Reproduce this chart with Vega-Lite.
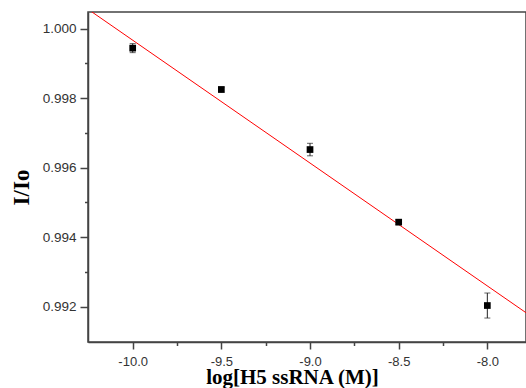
{
  "$schema": "https://vega.github.io/schema/vega-lite/v6.json",
  "autosize": {"type": "none"},
  "padding": {"left": 88, "top": 12, "right": 0, "bottom": 46},
  "width": 438,
  "height": 330,
  "background": "white",
  "config": {
    "view": {"stroke": "#444", "strokeWidth": 1.5},
    "axis": {"grid": false}
  },
  "datasets": {
    "pts": [
      {"x": -10.0, "y": 0.99944, "lo": 0.99931, "hi": 0.99957},
      {"x": -9.5, "y": 0.99825, "lo": 0.99817, "hi": 0.99831},
      {"x": -9.0, "y": 0.99652, "lo": 0.99634, "hi": 0.99670},
      {"x": -8.5, "y": 0.99443, "lo": 0.99436, "hi": 0.99450},
      {"x": -8.0, "y": 0.99203, "lo": 0.99167, "hi": 0.99239}
    ],
    "fit": [
      {"x": -10.3, "y": 1.00073},
      {"x": -7.75, "y": 0.99171}
    ],
    "minor": [
      {"x": -9.75, "y": 0.999},
      {"x": -9.25, "y": 0.997},
      {"x": -8.75, "y": 0.995},
      {"x": -8.25, "y": 0.993},
      {"x": -10.25, "y": 0.991},
      {"x": -7.75, "y": 0.991}
    ]
  },
  "resolve": {"axis": {"x": "independent", "y": "independent"}},
  "layer": [
    {
      "layer": [
        {
          "data": {"name": "fit"},
          "mark": {"type": "line", "color": "#ff0000", "strokeWidth": 1, "clip": true},
          "encoding": {
            "x": {"field": "x", "type": "quantitative"},
            "y": {"field": "y", "type": "quantitative"}
          }
        },
        {
          "data": {"name": "pts"},
          "mark": {"type": "rule", "color": "#222", "strokeWidth": 1},
          "encoding": {
            "x": {"field": "x", "type": "quantitative"},
            "y": {"field": "lo", "type": "quantitative"},
            "y2": {"field": "hi"}
          }
        },
        {
          "data": {"name": "pts"},
          "mark": {"type": "tick", "color": "#222", "orient": "horizontal", "size": 6, "thickness": 1},
          "encoding": {
            "x": {"field": "x", "type": "quantitative"},
            "y": {"field": "lo", "type": "quantitative"}
          }
        },
        {
          "data": {"name": "pts"},
          "mark": {"type": "tick", "color": "#222", "orient": "horizontal", "size": 6, "thickness": 1},
          "encoding": {
            "x": {"field": "x", "type": "quantitative"},
            "y": {"field": "hi", "type": "quantitative"}
          }
        },
        {
          "data": {"name": "pts"},
          "mark": {"type": "square", "color": "#000", "opacity": 1, "filled": true, "size": 45},
          "encoding": {
            "x": {
              "field": "x", "type": "quantitative",
              "scale": {"domain": [-10.252, -7.782], "nice": false, "zero": false},
              "axis": {
                "orient": "bottom",
                "values": [-10, -9.5, -9, -8.5, -8],
                "labelExpr": "replace(format(datum.value, '.1f'), '\u2212', '-')",
                "title": "log[H5 ssRNA (M)]",
                "titleFont": "Liberation Serif",
                "titleFontWeight": "bold",
                "titleFontSize": 21,
                "titleColor": "#000",
                "titleX": 204,
                "titleY": 41,
                "titleAlign": "center",
                "titleBaseline": "alphabetic",
                "labelFont": "Liberation Sans",
                "labelFontSize": 13,
                "labelColor": "#333",
                "labelPadding": 6,
                "tickSize": 7,
                "tickColor": "#444",
                "tickWidth": 1.5,
                "domainColor": "#444",
                "domainWidth": 1.5
              }
            },
            "y": {
              "field": "y", "type": "quantitative",
              "scale": {"domain": [0.99098, 1.00048], "nice": false, "zero": false},
              "axis": {
                "orient": "left",
                "values": [0.992, 0.994, 0.996, 0.998, 1.0],
                "format": ".3f",
                "title": "I/Io",
                "titleFont": "Liberation Serif",
                "titleFontWeight": "bold",
                "titleFontSize": 23,
                "titleColor": "#000",
                "titleX": -60,
                "titleY": 175,
                "titleAlign": "center",
                "titleBaseline": "alphabetic",
                "titleAngle": -90,
                "labelFont": "Liberation Sans",
                "labelFontSize": 13.5,
                "labelColor": "#333",
                "labelPadding": 4,
                "tickSize": 8,
                "tickColor": "#444",
                "tickWidth": 1.5,
                "domainColor": "#444",
                "domainWidth": 1.5
              }
            }
          }
        }
      ]
    },
    {
      "data": {"name": "minor"},
      "mark": {"type": "point", "opacity": 0},
      "encoding": {
        "x": {
          "field": "x", "type": "quantitative",
          "axis": {
            "orient": "bottom",
            "values": [-9.75, -9.25, -8.75, -8.25],
            "labels": false,
            "title": null,
            "domain": false,
            "tickSize": 3.5,
            "tickColor": "#444",
            "tickWidth": 1.5
          }
        },
        "y": {
          "field": "y", "type": "quantitative",
          "axis": {
            "orient": "left",
            "values": [0.993, 0.995, 0.997, 0.999],
            "labels": false,
            "title": null,
            "domain": false,
            "tickSize": 3.5,
            "tickColor": "#444",
            "tickWidth": 1.5
          }
        }
      }
    }
  ]
}
